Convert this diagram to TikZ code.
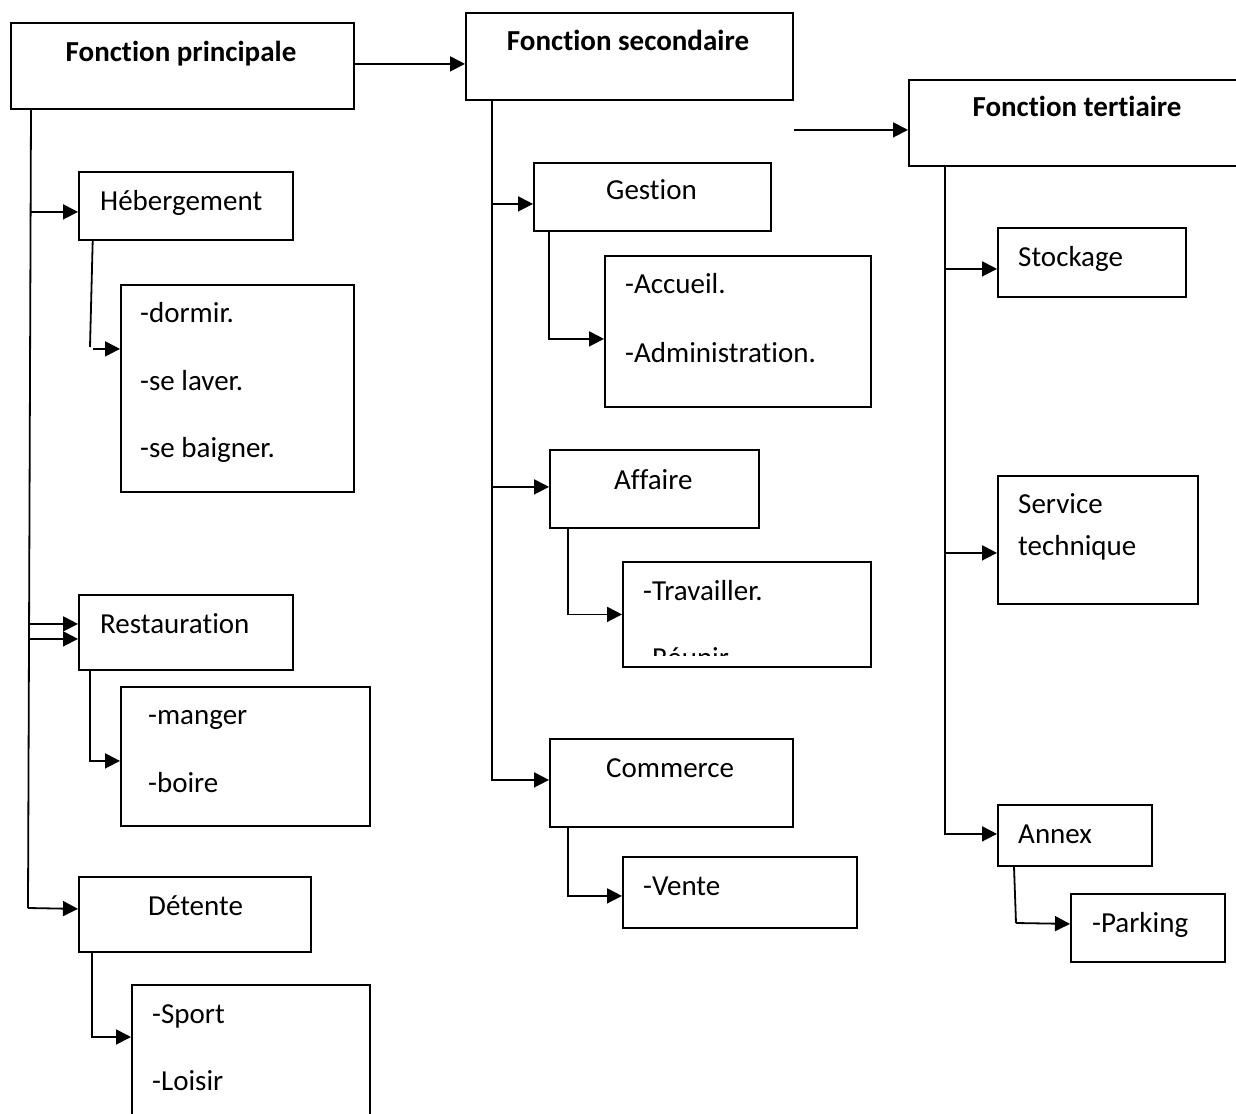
\documentclass[tikz,border=0pt]{standalone}
\usepackage{fontspec}
\setmainfont{Carlito}[Ligatures={NoCommon}]
\usetikzlibrary{arrows.meta,calc}
\newcommand\bx[5]{\node[box,minimum width={((#4)-(#2))*1pt},minimum height={((#5)-(#3))*1pt}] (#1) at (#2,#3) {};}
\begin{document}
\begin{tikzpicture}[x=1pt,y=-1pt,
 box/.style={draw,line width=1.8pt,inner sep=0pt,anchor=north west},
 lbl/.style={inner sep=0pt,anchor=base west,font=\fontsize{29}{35}\selectfont},
 hdr/.style={inner sep=0pt,anchor=base,font=\fontsize{29}{35}\selectfont\bfseries},
 ln/.style={line width=1.8pt},
 arr/.style={line width=1.8pt,-{Triangle[length=15pt,width=15pt]}}]
\useasboundingbox (0,0) rectangle (1236,1113);
\fill[white] (0,0) rectangle (1236,1113);
% ---- boxes ----
\bx{P}{10}{22}{353}{108}
\bx{S}{465}{12}{792}{99}
\bx{T}{908}{79}{1246}{165}
\bx{heb}{78}{171}{292}{239}
\bx{dor}{120}{284}{353}{491}
\bx{res}{78}{594}{292}{669}
\bx{man}{120}{686}{369}{825}
\bx{det}{78}{876}{310}{951}
\bx{spo}{131}{984}{369}{1125}
\bx{ges}{533}{162}{770}{230}
\bx{acc}{604}{255}{870}{406}
\bx{aff}{549}{449}{758}{527}
\bx{tra}{622}{561}{870}{666}
\bx{com}{549}{738}{792}{826}
\bx{ven}{622}{856}{856}{927}
\bx{sto}{997}{227}{1185}{296}
\bx{ser}{997}{475}{1197}{603}
\bx{ann}{997}{804}{1151}{865}
\bx{par}{1070}{893}{1224}{961}
% ---- texts ----
\node[hdr] (tP) at (181,62) {Fonction principale};
\node[hdr] (tS) at (628,51) {Fonction secondaire};
\node[hdr] (tT) at (1077,117) {Fonction tertiaire};
\node[lbl] (t1) at (100,210) {Hébergement};
\node[lbl] (t2) at (140,322) {-dormir.};
\node[lbl] (t3) at (140,390) {-se laver.};
\node[lbl] (t4) at (140,457) {-se baigner.};
\node[lbl] (t5) at (100,633) {Restauration};
\node[lbl] (t6) at (148,724) {-manger};
\node[lbl] (t7) at (148,792) {-boire};
\node[lbl] (t8) at (148,915) {Détente};
\node[lbl] (t9) at (152,1023) {-Sport};
\node[lbl] (t10) at (152,1090) {-Loisir};
\node[lbl] (t11) at (606,199) {Gestion};
\node[lbl] (t12) at (625,293) {-Accueil.};
\node[lbl] (t13) at (625,362) {-Administration.};
\node[lbl] (t14) at (614,489) {Affaire};
\node[lbl] (t15) at (643,600) {-Travailler.};
\begin{scope}
\clip (622,561) rectangle (870,655);
\node[lbl] (t16) at (643,667) {-Réunir.};
\end{scope}
\node[lbl] (t17) at (606,777) {Commerce};
\node[lbl] (t18) at (643,895) {-Vente};
\node[lbl] (t19) at (1018,266) {Stockage};
\node[lbl] (t20) at (1018,513) {Service};
\node[lbl] (t21) at (1018,555) {technique};
\node[lbl] (t22) at (1018,843) {Annex};
\node[lbl] (t23) at (1092,932) {-Parking};
% ---- connectors ----
\coordinate (s1top) at ([xshift=21pt]P.south west);
\coordinate (s1bot) at (28,908);
\draw[ln] (s1top) -- (s1bot);
\draw[arr] ([yshift=-6pt]heb.west -| s1top) -- ([yshift=-6pt]heb.west);
\draw[arr] ([yshift=8.5pt]res.west -| s1bot) -- ([yshift=8.5pt]res.west);
\draw[arr] ([yshift=-6.5pt]res.west -| s1bot) -- ([yshift=-6.5pt]res.west);
\draw[arr] (s1bot) -- ([yshift=5.5pt]det.west);
\draw[arr] ([yshift=2pt]P.east) -- ([yshift=2pt]P.east -| S.west);
\draw[arr] ([yshift=-7pt]T.west -| S.east) -- ([yshift=-7pt]T.west);
% heb child
\coordinate (c1) at (90,347);
\draw[ln] ([xshift=14.7pt]heb.south west) -- (c1);
\draw[arr] ([yshift=39.5pt,xshift=-27pt]dor.west) -- ([yshift=39.5pt]dor.west);
% res child
\draw[arr] ([xshift=12pt]res.south west) |- ([yshift=-4.5pt]man.west);
% det child
\draw[arr] ([xshift=14pt]det.south west) |- ([yshift=-53pt]spo.north west);
% secondary spine
\coordinate (s2top) at ([xshift=27pt]S.south west);
\draw[arr] (s2top) |- ([yshift=3pt]com.west);
\draw[arr] ([yshift=-7pt]ges.west -| s2top) -- ([yshift=-7pt]ges.west);
\draw[arr] ([yshift=2pt]aff.west -| s2top) -- ([yshift=2pt]aff.west);
\draw[arr] ([xshift=16pt]ges.south west) |- ([yshift=-7.5pt]acc.west);
\draw[arr] ([xshift=19pt]aff.south west) |- (tra.west);
\draw[arr] ([xshift=19pt]com.south west) |- ([yshift=-3.5pt]ven.west);
% tertiary spine
\coordinate (s3top) at ([xshift=37pt]T.south west);
\draw[arr] (s3top) |- ([yshift=1.5pt]ann.west);
\draw[arr] ([yshift=-6.5pt]sto.west -| s3top) -- ([yshift=-6.5pt]sto.west);
\draw[arr] ([yshift=-13pt]ser.west -| s3top) -- ([yshift=-13pt]ser.west);
\coordinate (c2) at (1016,923);
\draw[ln] ([xshift=17pt]ann.south west) -- (c2);
\draw[arr] (c2) -- ([yshift=4pt]par.west);
\end{tikzpicture}
\end{document}
